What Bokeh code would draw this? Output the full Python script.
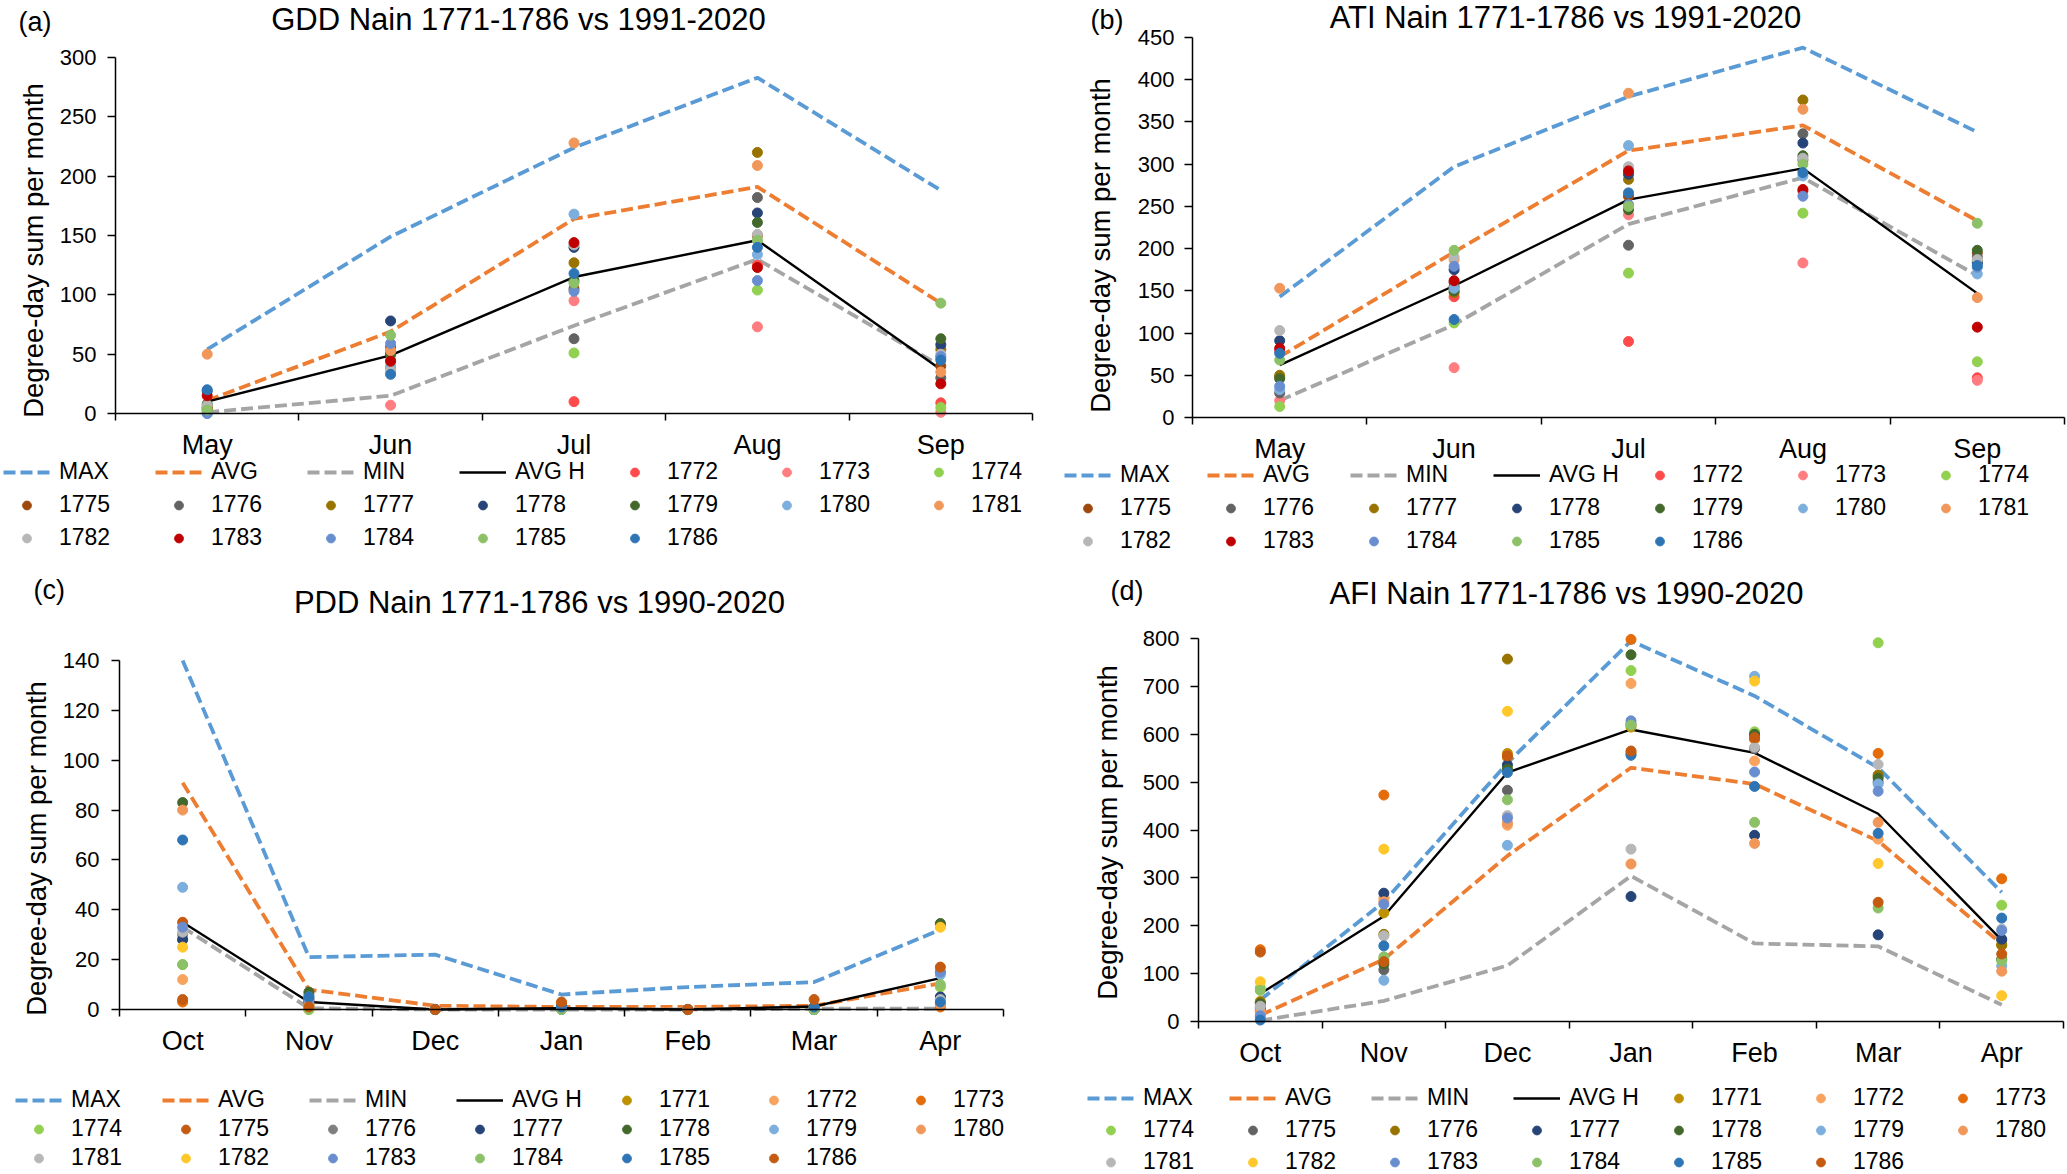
from bokeh.plotting import figure
from bokeh.models import Range1d, LinearAxis, FixedTicker, Label, Legend, LegendItem
from bokeh.layouts import row, column
from bokeh.embed import file_html
from bokeh.resources import INLINE

FONT = "Liberation Sans"

months_summer = ["May", "Jun", "Jul", "Aug", "Sep"]
months_winter = ["Oct", "Nov", "Dec", "Jan", "Feb", "Mar", "Apr"]
y_title = "Degree-day sum per month"

# ---------------- (a) GDD ----------------
gdd_max = [54, 149, 224, 283, 188]
gdd_avg = [11, 69, 164, 191, 93]
gdd_min = [1, 15, 74, 130, 40]
gdd_avgh = [10, 49, 115, 146, 37]
gdd_years = {
    1772: [3, 45, 10, 125, 9],
    1773: [2, 7, 95, 73, 1],
    1774: [1, 40, 51, 104, 5],
    1775: [4, 50, 105, 150, 40],
    1776: [6, 56, 63, 182, 30],
    1777: [5, 52, 127, 220, 54],
    1778: [19, 78, 140, 169, 58],
    1779: [8, 50, 112, 161, 63],
    1780: [0, 38, 168, 134, 47],
    1781: [50, 53, 228, 209, 35],
    1782: [7, 36, 142, 151, 50],
    1783: [15, 44, 144, 123, 25],
    1784: [0, 59, 103, 112, 48],
    1785: [3, 66, 110, 146, 93],
    1786: [20, 33, 118, 140, 45],
}

# ---------------- (b) ATI ----------------
ati_max = [143, 297, 380, 438, 338]
ati_avg = [72, 196, 316, 346, 233]
ati_min = [20, 110, 229, 284, 168]
ati_avgh = [62, 156, 258, 295, 147]
ati_years = {
    1772: [79, 143, 90, 268, 47],
    1773: [20, 59, 240, 183, 44],
    1774: [13, 112, 171, 242, 66],
    1775: [48, 155, 262, 305, 195],
    1776: [29, 160, 204, 336, 190],
    1777: [50, 148, 282, 376, 185],
    1778: [91, 175, 288, 325, 183],
    1779: [46, 150, 246, 310, 198],
    1780: [33, 153, 322, 286, 170],
    1781: [153, 187, 384, 365, 142],
    1782: [103, 190, 297, 307, 187],
    1783: [82, 162, 292, 270, 107],
    1784: [37, 179, 252, 262, 178],
    1785: [68, 198, 250, 300, 230],
    1786: [76, 116, 266, 290, 180],
}

# ---------------- (c) PDD ----------------
pdd_max = [140, 21, 22, 6, 9, 11, 32]
pdd_avg = [91, 8, 1.5, 1, 1, 1.5, 10.5]
pdd_min = [33, 0.5, 0, 0, 0, 0.3, 0.3]
pdd_avgh = [35, 3, 0, 0.5, 0, 1.2, 12.6]
pdd_years = {
    1771: [28, 2, 0, 0, 0, 0, 34],
    1772: [12, 1, 0, 0, 0, 0, 2],
    1773: [3, 3, 0, 2, 0, 1, 1],
    1774: [18, 0, 0, 0, 0, 0, 9],
    1775: [35, 4, 0, 0, 0, 0, 15],
    1776: [30, 6, 0, 0, 0, 0, 5],
    1777: [28, 3, 0, 0, 0, 0, 5],
    1778: [83, 7, 0, 1, 0, 1, 34.5],
    1779: [49, 5, 0, 0, 0, 0, 14],
    1780: [80, 2, 0, 0, 0, 0, 2],
    1781: [31, 1, 0, 0, 0, 0, 4],
    1782: [25, 0, 0, 0, 0, 0, 33],
    1783: [33, 4, 0, 0, 0, 0, 15],
    1784: [18, 0, 0, 0, 0, 0, 10],
    1785: [68, 5, 0, 1, 0, 1, 3],
    1786: [4, 1, 0, 3, 0, 4, 17],
}

# ---------------- (d) AFI ----------------
afi_max = [45, 250, 540, 795, 680, 530, 270]
afi_avg = [13, 130, 346, 530, 496, 377, 162]
afi_min = [2, 43, 117, 304, 163, 157, 35]
afi_avgh = [58, 220, 520, 610, 561, 434, 170]
afi_years = {
    1771: [42, 227, 560, 615, 590, 512, 159],
    1772: [20, 257, 410, 706, 544, 381, 130],
    1773: [150, 473, 552, 798, 590, 560, 298],
    1774: [70, 130, 530, 733, 605, 791, 243],
    1775: [30, 108, 483, 560, 570, 500, 170],
    1776: [40, 182, 757, 620, 598, 515, 160],
    1777: [25, 268, 536, 261, 389, 181, 172],
    1778: [37, 120, 527, 766, 600, 508, 130],
    1779: [10, 86, 368, 622, 721, 496, 116],
    1780: [22, 250, 415, 329, 372, 416, 105],
    1781: [32, 179, 430, 360, 573, 537, 193],
    1782: [83, 360, 648, 562, 711, 330, 54],
    1783: [12, 245, 425, 628, 521, 481, 190],
    1784: [65, 135, 463, 619, 416, 237, 127],
    1785: [3, 158, 520, 556, 491, 393, 216],
    1786: [145, 125, 555, 565, 593, 249, 141],
}

line_styles = [("MAX", "#5B9BD5", "12 5", 3.8), ("AVG", "#ED7D31", "12 5", 3.8),
               ("MIN", "#A5A5A5", "12 5", 3.8), ("AVG H", "#000000", "solid", 2.4)]

colors_ab = {1772: "#FF4B4B", 1773: "#FF7C80", 1774: "#92D050", 1775: "#9E480E", 1776: "#636363",
             1777: "#997300", 1778: "#264478", 1779: "#43682B", 1780: "#7CAFDD", 1781: "#F1975A",
             1782: "#B7B7B7", 1783: "#C00000", 1784: "#698ED0", 1785: "#8CC168", 1786: "#2E75B6"}
colors_c = {1771: "#BF9000", 1772: "#F8A35E", 1773: "#E46C0A", 1774: "#92D050", 1775: "#C55A11",
            1776: "#7F7F7F", 1777: "#264478", 1778: "#43682B", 1779: "#7CAFDD", 1780: "#F1975A",
            1781: "#B7B7B7", 1782: "#FFC729", 1783: "#698ED0", 1784: "#8CC168", 1785: "#2E75B6",
            1786: "#C55A11"}
colors_d = dict(colors_c)
colors_d[1775] = "#636363"
colors_d[1776] = "#997300"


def make_panel(g, months, ymax, ystep, line_vals, year_vals, colors, title, tag):
    n = len(months)
    cw = (g["x1"] - g["x0"]) / n                 # px per category
    py = (g["yb"] - g["yt"]) / ymax              # px per y unit
    xr = Range1d(-(g["x0"] - g["ox"]) / cw, n + (g["ox"] + g["W"] - g["x1"]) / cw)
    yr = Range1d(-(g["oy"] + g["H"] - g["yb"]) / py, ymax + (g["yt"] - g["oy"]) / py)

    def dx(X):
        return (X - g["x0"]) / cw

    def dy(Y):
        return (g["yb"] - Y) / py

    p = figure(width=g["W"], height=g["H"], x_range=xr, y_range=yr,
               output_backend="svg", toolbar_location=None,
               x_axis_location=None, y_axis_location=None,
               min_border_left=0, min_border_right=0, min_border_top=0, min_border_bottom=0)
    p.outline_line_color = None
    p.grid.grid_line_color = None

    centers = [i + 0.5 for i in range(n)]
    xaxis = LinearAxis(fixed_location=0, bounds=(0, n),
                       ticker=FixedTicker(ticks=centers, minor_ticks=list(range(n + 1))),
                       major_label_overrides={c: m for c, m in zip(centers, months)})
    xaxis.axis_line_color = "black"
    xaxis.axis_line_width = 1.5
    xaxis.major_tick_line_color = None
    xaxis.major_tick_out = 0
    xaxis.major_tick_in = 0
    xaxis.minor_tick_line_color = "black"
    xaxis.minor_tick_line_width = 1.5
    xaxis.minor_tick_out = 7
    xaxis.minor_tick_in = 0
    xaxis.major_label_standoff = g["xs"]
    xaxis.major_label_text_font = FONT
    xaxis.major_label_text_font_size = "27px"
    xaxis.major_label_text_color = "black"
    p.add_layout(xaxis, "below")

    yaxis = LinearAxis(fixed_location=0, bounds=(0, ymax),
                       ticker=FixedTicker(ticks=list(range(0, ymax + 1, ystep)), minor_ticks=[]))
    yaxis.axis_line_color = "black"
    yaxis.axis_line_width = 1.5
    yaxis.major_tick_line_color = "black"
    yaxis.major_tick_line_width = 1.5
    yaxis.major_tick_out = 8
    yaxis.major_tick_in = 0
    yaxis.minor_tick_line_color = None
    yaxis.major_label_standoff = g["ys"]
    yaxis.major_label_text_font = FONT
    yaxis.major_label_text_font_size = "22px"
    yaxis.major_label_text_color = "black"
    p.add_layout(yaxis, "left")

    items = []
    for (name, color, dash, lw), vals in zip(line_styles, line_vals):
        r = p.line(x=centers, y=vals, line_color=color, line_width=lw, line_dash=dash)
        items.append(LegendItem(label=name, renderers=[r]))
    for yr_, vals in year_vals.items():
        r = p.scatter(x=centers, y=vals, size=10, fill_color=colors[yr_], line_color=colors[yr_])
        items.append(LegendItem(label=str(yr_), renderers=[r]))

    lh, sp = 27, g["sp"]
    leg_bottom = g["ltop"] + 3 * lh + 2 * sp
    legend = Legend(items=items, location=(g["ll"] - g["ox"], g["oy"] + g["H"] - leg_bottom),
                    orientation="horizontal", ncols=7,
                    glyph_width=47, glyph_height=22, label_standoff=9,
                    label_width=g["lw"], label_height=lh, spacing=sp,
                    padding=0, margin=0, border_line_color=None, background_fill_alpha=0,
                    label_text_font=FONT, label_text_font_size="23px", label_text_color="black")
    p.add_layout(legend, "center")

    # y-axis title
    p.add_layout(Label(x=dx(g["ylab"][0]), y=dy(g["ylab"][1]), text=y_title, angle=90, angle_units="deg",
                       text_font=FONT, text_font_size="27.5px", text_color="black",
                       text_align="center", text_baseline="middle"))
    p.add_layout(Label(x=dx(g["title"][0]), y=dy(g["title"][1]), text=title,
                       text_font=FONT, text_font_size="31px", text_color="black",
                       text_align="center", text_baseline="alphabetic"))
    p.add_layout(Label(x=dx(g["tag"][0]), y=dy(g["tag"][1]), text=tag,
                       text_font=FONT, text_font_size="27px", text_color="black",
                       text_align="left", text_baseline="alphabetic"))
    return p


GA = dict(ox=0, oy=0, W=1034, H=572, x0=115, x1=1032, yt=57, yb=413, ylab=(33, 250),
          xs=9, ys=11, ll=3, ltop=458, lw=90, sp=6, title=(518, 19), tag=(18, 21))
GB = dict(ox=1034, oy=0, W=1032, H=572, x0=1192, x1=2064, yt=37, yb=417, ylab=(1100, 245),
          xs=9, ys=10, ll=1064, ltop=461, lw=81, sp=6, title=(1565, 17), tag=(1090, 19))
GC = dict(ox=0, oy=572, W=1034, H=601, x0=119, x1=1003, yt=660, yb=1009, ylab=(36, 848),
          xs=9, ys=12, ll=15, ltop=1086, lw=89, sp=2, title=(539, 602), tag=(33, 589))
GD = dict(ox=1034, oy=572, W=1032, H=601, x0=1198, x1=2063, yt=638, yb=1021, ylab=(1107, 832),
          xs=9, ys=11, ll=1087, ltop=1084, lw=81, sp=5, title=(1566, 593), tag=(1110, 590))

pa = make_panel(GA, months_summer, 300, 50, [gdd_max, gdd_avg, gdd_min, gdd_avgh], gdd_years, colors_ab,
                "GDD Nain 1771-1786 vs 1991-2020", "(a)")
pb = make_panel(GB, months_summer, 450, 50, [ati_max, ati_avg, ati_min, ati_avgh], ati_years, colors_ab,
                "ATI Nain 1771-1786 vs 1991-2020", "(b)")
pc = make_panel(GC, months_winter, 140, 20, [pdd_max, pdd_avg, pdd_min, pdd_avgh], pdd_years, colors_c,
                "PDD Nain 1771-1786 vs 1990-2020", "(c)")
pd_ = make_panel(GD, months_winter, 800, 100, [afi_max, afi_avg, afi_min, afi_avgh], afi_years, colors_d,
                 "AFI Nain 1771-1786 vs 1990-2020", "(d)")

layout = column(row(pa, pb), row(pc, pd_))
open("out.html", "w").write(file_html(layout, INLINE))
